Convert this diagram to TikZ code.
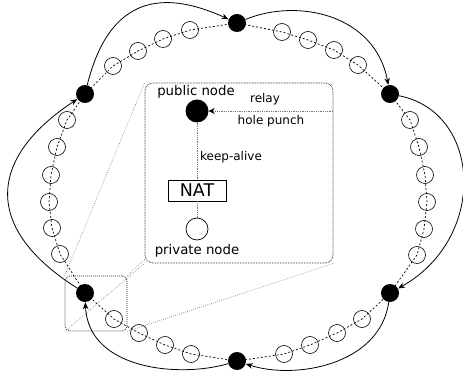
\documentclass[tikz,border=0pt]{standalone}
\usepackage{fontspec}
\setmainfont{DejaVu Sans}
\usetikzlibrary{arrows.meta}
\pgfdeclarelayer{bg}
\pgfsetlayers{bg,main}
\begin{document}
\begin{tikzpicture}[x=1pt,y=-1pt,
  blk/.style={circle, fill=black, inner sep=0pt, minimum size=18pt},
  hol/.style={circle, draw, line width=0.6pt, inner sep=0pt, minimum size=17pt},
  ringline/.style={line width=0.7pt, dash pattern=on 2pt off 2pt},
  hop/.style={line width=0.8pt, -{Stealth[length=7pt,width=5.5pt]}},
  bigbox/.style={draw=black!80, fill=white, line width=0.7pt, dash pattern=on 0.8pt off 0.8pt, rounded corners=8pt, inner sep=0pt},
  smallbox/.style={draw=black!85, line width=0.7pt, dash pattern=on 1pt off 1pt, rounded corners=5pt, inner sep=0pt},
  zoomline/.style={draw=black!55, line width=0.55pt, dash pattern=on 0.7pt off 1.4pt},
  innerline/.style={draw=black!55, line width=0.9pt, dash pattern=on 0.9pt off 0.9pt},
  lbl/.style={inner sep=0pt, font=\fontsize{13.3}{15}\selectfont},
  slbl/.style={inner sep=0pt, font=\fontsize{12}{14}\selectfont},
  natbox/.style={draw, line width=0.6pt, inner sep=0pt, minimum width=58pt, minimum height=21pt, font=\fontsize{17.5}{19}\selectfont}
]
\useasboundingbox (0,0) rectangle (463,379);
% ring nodes
\foreach \n/\x/\y/\s in {1/85/94/blk, 2/113/66/hol, 3/138/51/hol, 4/163/39/hol, 5/190/30/hol,
  6/237/23/blk, 7/282/32/hol, 8/308/40/hol, 9/334/50/hol, 10/358/65/hol,
  11/390/94/blk, 12/410/120/hol, 13/419/147/hol, 14/425/175/hol, 15/427/202/hol, 16/424/229/hol, 17/417/255/hol,
  18/390/293/blk, 19/362/319/hol, 20/337/333/hol, 21/310/345/hol, 22/284/354/hol,
  23/237/361/blk, 24/191/354/hol, 25/165/345/hol, 26/139/333/hol, 27/114/319/hol,
  28/85/293/blk, 29/60/254/hol, 30/52/228/hol, 31/49/202/hol, 32/51/175/hol, 33/57/147/hol, 34/67/120/hol}
  \node[\s] (r\n) at (\x,\y) {};
\draw[ringline] (r1.center) foreach \i in {2,...,34}{ -- (r\i.center)} -- cycle;
% outer hops
\draw[hop] (r1) .. controls (112,-15) and (175,-5) .. (r6);
\draw[hop] (r6) .. controls (297,-2) and (375,14) .. (r11);
\draw[hop] (r11) .. controls (482,112) and (488,238) .. (r18);
\draw[hop] (r18) .. controls (380,365) and (295,380) .. (r23);
\draw[hop] (r23) .. controls (180,378) and (88,370) .. (r28);
\draw[hop] (r28) .. controls (-15,230) and (-15,160) .. (r1);
% zoom boxes
\node[smallbox, minimum width=62pt, minimum height=55pt] (sb) at (96,303.5) {};
\node[bigbox, minimum width=188pt, minimum height=180pt] (bb) at (239,173) {};
\begin{pgfonlayer}{bg}
\draw[zoomline] (sb.north west) -- (bb.north west);
\draw[zoomline] (sb.south west) -- (bb.south west);
\draw[zoomline] (sb.south east) -- (bb.south east);
\draw[zoomline] (sb.north east) -- (bb.north east);
\end{pgfonlayer}
% inset content
\node[blk, minimum size=23pt] (pub) at (197,111) {};
\node[natbox] (nat) at (197,190.5) {NAT};
\node[hol, minimum size=22pt, line width=0.7pt] (priv) at (197,229) {};
\coordinate (rs) at (333,111);
\draw[innerline] (pub) -- (nat);
\draw[innerline] (nat) -- (priv);
\draw[innerline, -{Stealth[black, length=6pt, width=6pt]}] (rs) -- (pub);
\node[lbl, anchor=base] (tpub) at (196,96) {public node};
\node[slbl, anchor=base] (trelay) at (265,103) {relay};
\node[slbl, anchor=base] (thole) at (271,125) {hole punch};
\node[slbl, anchor=base] (tkeep) at (231,161) {keep-alive};
\node[lbl, anchor=base] (tpriv) at (197,255) {private node};
\end{tikzpicture}
\end{document}
